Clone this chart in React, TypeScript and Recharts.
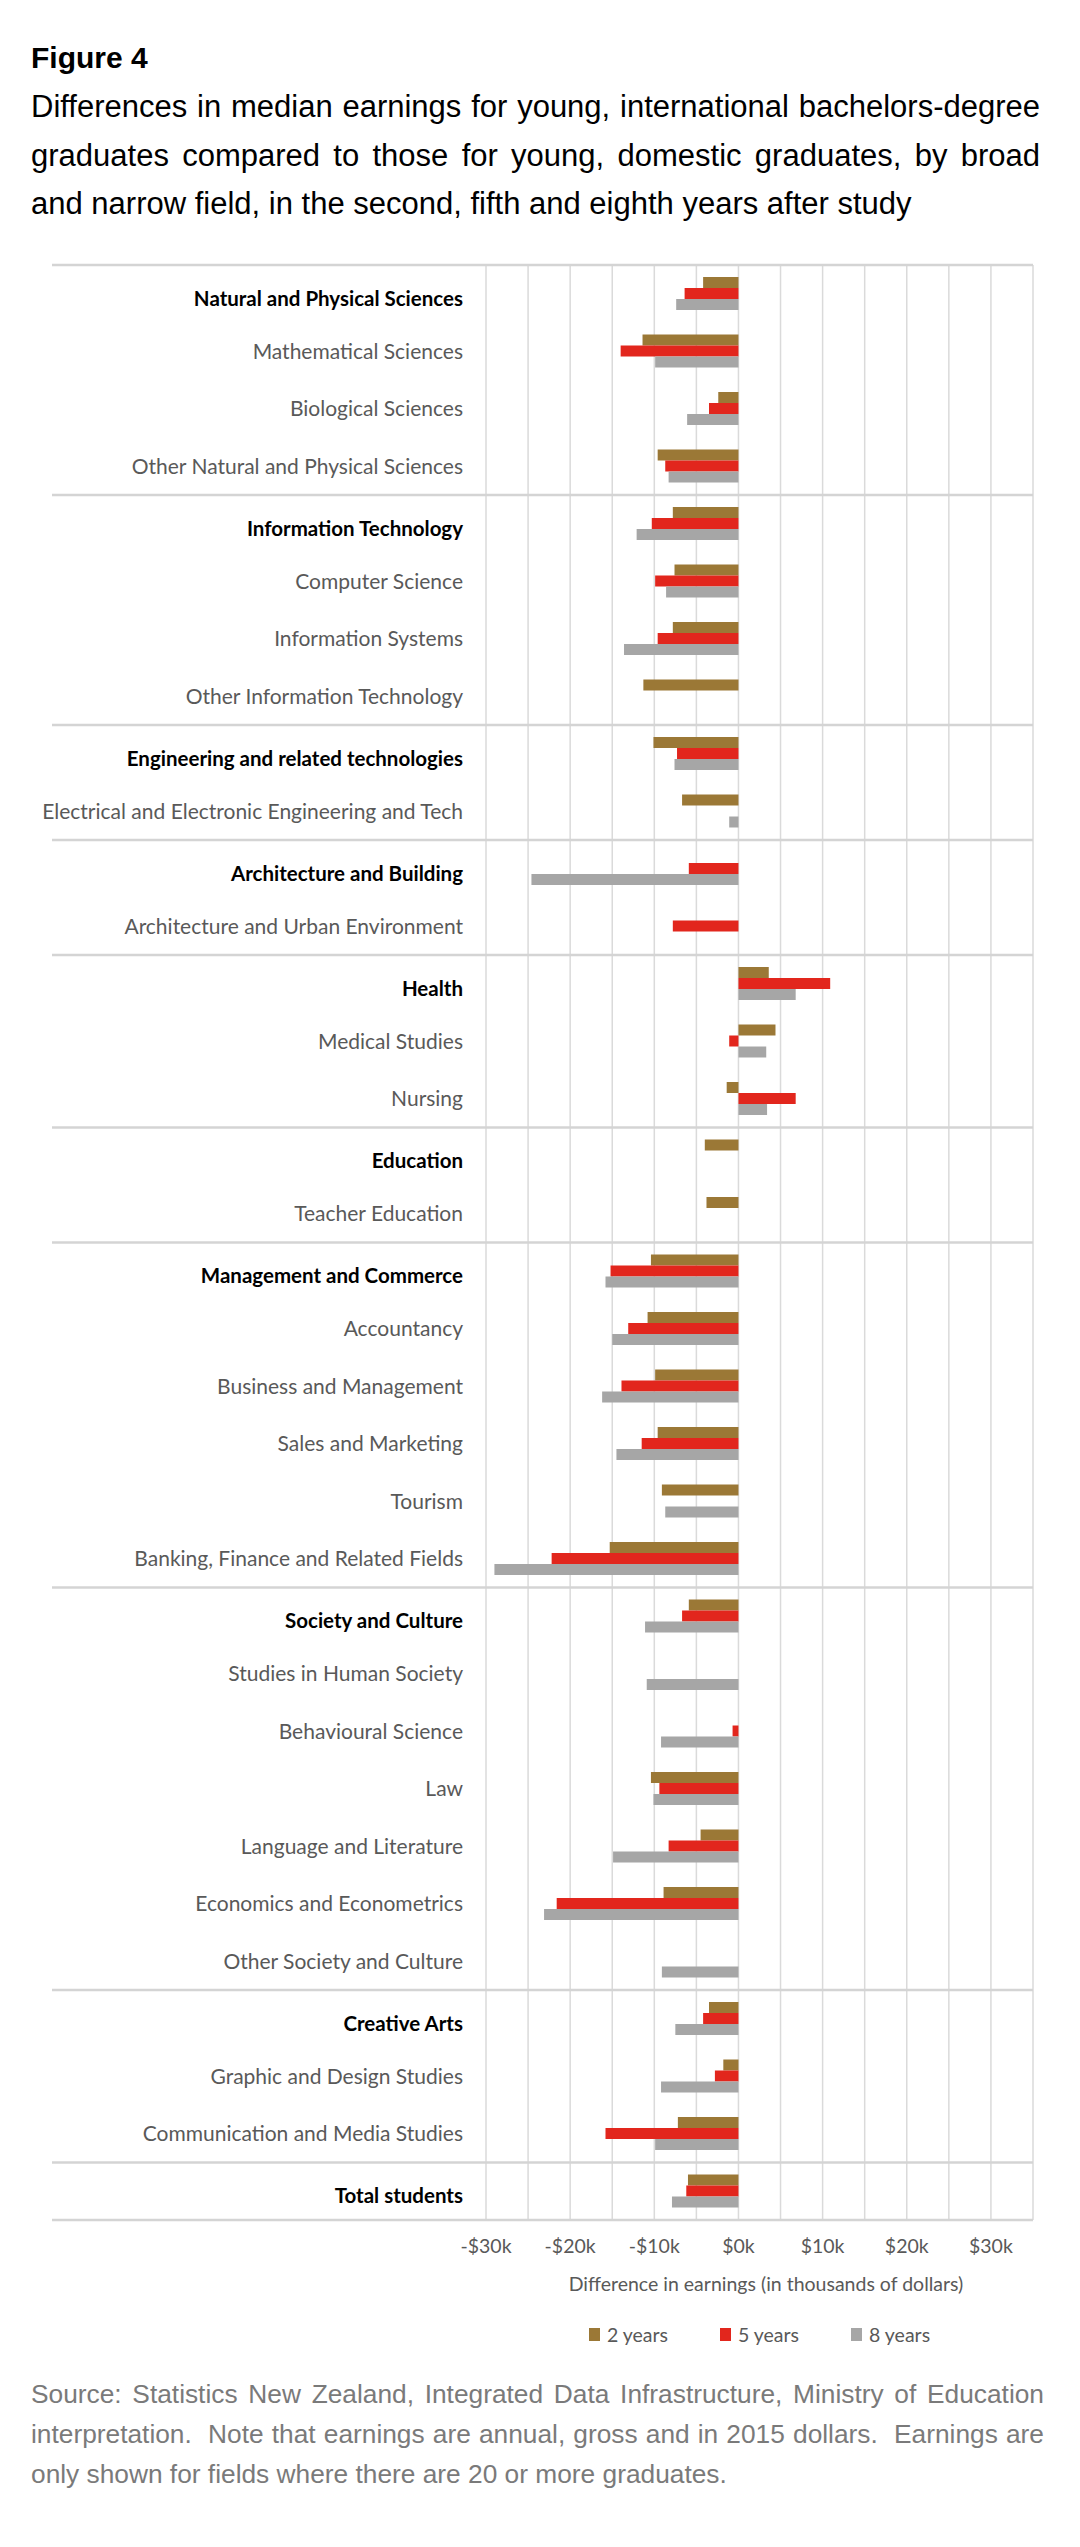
import React from 'react';
import { BarChart, Bar, XAxis, YAxis, CartesianGrid, ReferenceLine } from 'recharts';

// Broad fields (bold) are followed by their narrow fields
const fields = [
  'Natural and Physical Sciences',
  'Mathematical Sciences',
  'Biological Sciences',
  'Other Natural and Physical Sciences',
  'Information Technology',
  'Computer Science',
  'Information Systems',
  'Other Information Technology',
  'Engineering and related technologies',
  'Electrical and Electronic Engineering and Tech',
  'Architecture and Building',
  'Architecture and Urban Environment',
  'Health',
  'Medical Studies',
  'Nursing',
  'Education',
  'Teacher Education',
  'Management and Commerce',
  'Accountancy',
  'Business and Management',
  'Sales and Marketing',
  'Tourism',
  'Banking, Finance and Related Fields',
  'Society and Culture',
  'Studies in Human Society',
  'Behavioural Science',
  'Law',
  'Language and Literature',
  'Economics and Econometrics',
  'Other Society and Culture',
  'Creative Arts',
  'Graphic and Design Studies',
  'Communication and Media Studies',
  'Total students',
];

const broadFields = [
  'Natural and Physical Sciences',
  'Information Technology',
  'Engineering and related technologies',
  'Architecture and Building',
  'Health',
  'Education',
  'Management and Commerce',
  'Society and Culture',
  'Creative Arts',
  'Total students',
];

// last field of each broad group (a rule is drawn under it)
const groupEnds = [
  'Other Natural and Physical Sciences',
  'Other Information Technology',
  'Electrical and Electronic Engineering and Tech',
  'Architecture and Urban Environment',
  'Nursing',
  'Teacher Education',
  'Banking, Finance and Related Fields',
  'Other Society and Culture',
  'Communication and Media Studies',
  'Total students',
];

// thousands of dollars, null = fewer than 20 graduates
const twoYears = [
  -4.2, -11.4, -2.4, -9.6, -7.8, -7.6, -7.8, -11.3, -10.1, -6.7, null, null, 3.6, 4.4, -1.4, -4.0, -3.8,
  -10.4, -10.8, -9.9, -9.6, -9.1, -15.3, -5.9, null, null, -10.4, -4.5, -8.9, null, -3.5, -1.8, -7.2, -6.0,
];
const fiveYears = [
  -6.4, -14.0, -3.5, -8.7, -10.3, -9.9, -9.6, null, -7.3, null, -5.9, -7.8, 10.9, -1.1, 6.8, null, null,
  -15.2, -13.1, -13.9, -11.5, null, -22.2, -6.7, null, -0.7, -9.4, -8.3, -21.6, null, -4.2, -2.8, -15.8, -6.2,
];
const eightYears = [
  -7.4, -9.9, -6.1, -8.3, -12.1, -8.6, -13.6, null, -7.6, -1.1, -24.6, null, 6.8, 3.3, 3.4, null, null,
  -15.8, -15.0, -16.2, -14.5, -8.7, -29.0, -11.1, -10.9, -9.2, -10.1, -14.9, -23.1, -9.1, -7.5, -9.2, -9.9, -7.9,
];

const gridTicks = [-30, -25, -20, -15, -10, -5, 0, 5, 10, 15, 20, 25, 30];

const series = [
  { key: 'y2', name: '2 years', color: '#9b7836' },
  { key: 'y5', name: '5 years', color: '#e2261d' },
  { key: 'y8', name: '8 years', color: '#a6a6a6' },
];

const data = fields.map((name, i) => ({
  name,
  y2: twoYears[i],
  y5: fiveYears[i],
  y8: eightYears[i],
}));

const LABEL_FONT = 'Lato, "Noto Sans", sans-serif';
const TEXT_FONT = '"Liberation Sans", Arial, sans-serif';

function formatDollars(v: number) {
  if (v % 10 !== 0) return '';
  return v < 0 ? `-$${Math.abs(v)}k` : `$${v}k`;
}

function FieldTick(props: any) {
  const { x, y, payload } = props;
  const broad = broadFields.includes(payload.value);
  return (
    <text
      x={x - 15}
      y={y + (broad ? 5 : 0)}
      dy="0.35em"
      textAnchor="end"
      fontFamily={LABEL_FONT}
      fontSize={broad ? 20.5 : 21}
      fontWeight={broad ? 700 : 400}
      fill={broad ? '#000000' : '#595959'}
    >
      {payload.value}
    </text>
  );
}

// group rule, runs under the labels as well
function GroupRule(props: any) {
  const { y1, x2 } = props;
  return <line x1={52} y1={y1} x2={x2} y2={y1} stroke="#d4d4d4" strokeWidth={2.5} />;
}

export default function App() {
  return (
    <div
      style={{
        position: 'absolute',
        left: 0,
        top: 0,
        width: 1080,
        height: 2547,
        background: '#ffffff',
        overflow: 'hidden',
      }}
    >
      <div
        style={{
          position: 'absolute',
          left: 31,
          top: 34,
          fontFamily: TEXT_FONT,
          fontSize: 30,
          fontWeight: 700,
          lineHeight: '48px',
          color: '#000',
        }}
      >
        Figure 4
      </div>
      <div
        style={{
          position: 'absolute',
          left: 31,
          top: 83,
          width: 1009,
          fontFamily: TEXT_FONT,
          fontSize: 31,
          lineHeight: '48.5px',
          color: '#000',
        }}
      >
        <div style={{ textAlign: 'justify', textAlignLast: 'justify', whiteSpace: 'nowrap' }}>
          Differences in median earnings for young, international bachelors-degree
        </div>
        <div style={{ textAlign: 'justify', textAlignLast: 'justify' }}>
          graduates compared to those for young, domestic graduates, by broad
        </div>
        <div>and narrow field, in the second, fifth and eighth years after study</div>
      </div>

      <div style={{ position: 'absolute', left: 0, top: 0 }}>
        <BarChart
          width={1080}
          height={2300}
          data={data}
          layout="vertical"
          margin={{ top: 265, right: 47, bottom: 30, left: 0 }}
          barCategoryGap={12}
          barGap={0}
        >
          <CartesianGrid horizontal={false} stroke="#dadada" strokeWidth={1.5} />
          <XAxis
            type="number"
            domain={[-30, 35]}
            ticks={gridTicks}
            interval={0}
            tickFormatter={formatDollars}
            axisLine={false}
            tickLine={false}
            tickMargin={13}
            height={50}
            tick={{ fontFamily: LABEL_FONT, fontSize: 19.5, fill: '#595959' }}
          />
          <YAxis
            type="category"
            dataKey="name"
            width={486}
            interval={0}
            axisLine={false}
            tickLine={false}
            tick={<FieldTick />}
          />
          <ReferenceLine y={fields[0]} position="start" shape={<GroupRule />} />
          {groupEnds.map((name) => (
            <ReferenceLine key={name} y={name} position="end" shape={<GroupRule />} />
          ))}
          {series.map((s) => (
            <Bar key={s.key} dataKey={s.key} name={s.name} fill={s.color} isAnimationActive={false} />
          ))}
        </BarChart>
      </div>

      <div
        style={{
          position: 'absolute',
          left: 486,
          width: 560,
          top: 2272,
          textAlign: 'center',
          fontFamily: LABEL_FONT,
          fontSize: 19.5,
          color: '#595959',
        }}
      >
        Difference in earnings (in thousands of dollars)
      </div>

      <div
        style={{
          position: 'absolute',
          left: 486,
          width: 547,
          top: 2323,
          display: 'flex',
          justifyContent: 'center',
          gap: 52,
          fontFamily: LABEL_FONT,
          fontSize: 19.5,
          color: '#595959',
        }}
      >
        {series.map((s) => (
          <div key={s.key} style={{ display: 'flex', alignItems: 'center', gap: 7 }}>
            <span style={{ display: 'inline-block', width: 11, height: 13, background: s.color }} />
            <span>{s.name}</span>
          </div>
        ))}
      </div>

      <div
        style={{
          position: 'absolute',
          left: 31,
          top: 2374,
          width: 1013,
          fontFamily: TEXT_FONT,
          fontSize: 26.3,
          lineHeight: '40px',
          color: '#7a7a7a',
        }}
      >
        <div style={{ textAlign: 'justify', textAlignLast: 'justify', whiteSpace: 'nowrap' }}>
          Source: Statistics New Zealand, Integrated Data Infrastructure, Ministry of Education
        </div>
        <div style={{ textAlign: 'justify', textAlignLast: 'justify', whiteSpace: 'nowrap' }}>
          interpretation.&nbsp; Note that earnings are annual, gross and in 2015 dollars.&nbsp; Earnings are
        </div>
        <div>only shown for fields where there are 20 or more graduates.</div>
      </div>
    </div>
  );
}
